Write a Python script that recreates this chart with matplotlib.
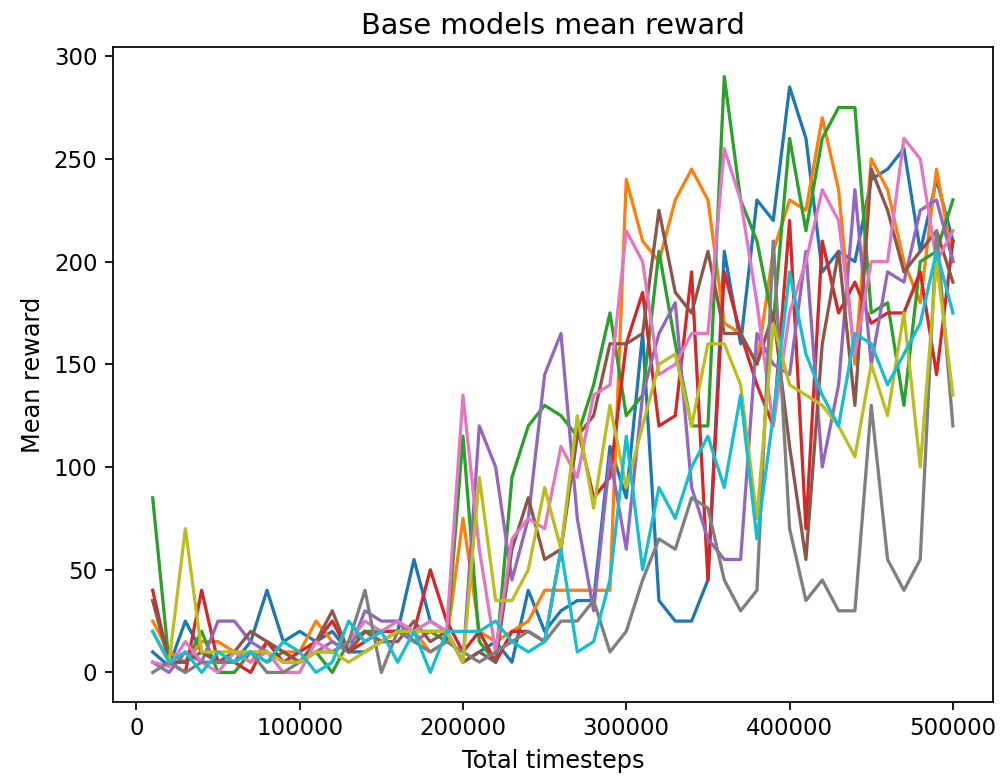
import matplotlib
matplotlib.use("Agg")
import matplotlib.pyplot as plt
import numpy as np

# evaluation checkpoints every 10k timesteps
timesteps = list(range(10000, 500001, 10000))

# mean reward of each base model at each checkpoint
model_0 = [10, 3, 25, 10, 5, 5, 15, 40, 15, 20, 15, 20, 10, 10, 15, 20, 55, 25, 20, 5,
           10, 15, 5, 40, 20, 30, 35, 35, 110, 85, 165, 35, 25, 25, 45, 205, 160, 230, 220, 285,
           260, 195, 205, 200, 240, 245, 255, 205, 240, 210]
model_1 = [25, 10, 5, 15, 15, 10, 5, 15, 10, 10, 25, 15, 10, 20, 15, 20, 20, 10, 15, 75,
           20, 15, 20, 25, 40, 40, 40, 40, 40, 240, 210, 200, 230, 245, 230, 170, 165, 150, 205, 230,
           225, 270, 235, 150, 250, 235, 200, 180, 245, 200]
model_2 = [85, 5, 5, 20, 0, 0, 10, 5, 10, 5, 10, 0, 15, 20, 20, 20, 20, 20, 15, 115,
           15, 5, 95, 120, 130, 125, 115, 140, 175, 125, 135, 205, 160, 120, 120, 290, 230, 210, 170, 260,
           215, 260, 275, 275, 175, 180, 130, 200, 205, 230]
model_3 = [40, 5, 0, 40, 5, 5, 0, 15, 5, 10, 15, 25, 10, 15, 20, 20, 20, 50, 25, 10,
           20, 5, 20, 20, 15, 60, 120, 85, 95, 160, 185, 120, 125, 195, 45, 195, 165, 140, 120, 220,
           70, 210, 175, 190, 170, 175, 175, 195, 145, 210]
model_4 = [5, 0, 10, 5, 25, 25, 15, 10, 5, 5, 10, 15, 10, 30, 25, 25, 15, 20, 20, 5,
           120, 100, 45, 75, 145, 165, 75, 30, 105, 60, 135, 165, 180, 90, 65, 55, 55, 165, 150, 145,
           205, 100, 140, 235, 150, 195, 190, 225, 230, 200]
model_5 = [35, 5, 5, 10, 5, 10, 20, 15, 10, 5, 15, 30, 10, 20, 15, 15, 25, 15, 20, 5,
           10, 5, 60, 85, 55, 60, 115, 125, 160, 160, 165, 225, 185, 175, 205, 165, 165, 150, 175, 110,
           55, 160, 205, 130, 245, 225, 195, 205, 215, 190]
model_6 = [5, 3, 15, 5, 0, 10, 5, 10, 0, 0, 15, 10, 15, 25, 20, 25, 20, 25, 20, 135,
           60, 10, 65, 75, 70, 110, 95, 135, 140, 215, 200, 145, 150, 165, 165, 255, 230, 180, 120, 175,
           200, 235, 220, 155, 200, 200, 260, 250, 200, 215]
model_7 = [0, 5, 0, 5, 5, 5, 10, 0, 0, 5, 10, 10, 15, 40, 0, 20, 15, 10, 15, 10,
           5, 10, 15, 20, 15, 25, 25, 35, 10, 20, 45, 65, 60, 85, 80, 45, 30, 40, 210, 70,
           35, 45, 30, 30, 130, 55, 40, 55, 215, 120]
model_8 = [20, 5, 70, 10, 10, 10, 10, 10, 5, 5, 10, 10, 5, 10, 15, 20, 20, 20, 20, 5,
           95, 35, 35, 50, 90, 60, 125, 80, 130, 90, 120, 150, 155, 120, 160, 160, 140, 75, 170, 140,
           135, 130, 120, 105, 150, 125, 175, 100, 200, 135]
model_9 = [20, 5, 10, 0, 10, 5, 10, 5, 15, 10, 0, 5, 25, 15, 20, 5, 20, 0, 20, 20,
           20, 25, 15, 10, 15, 60, 10, 15, 45, 115, 50, 90, 75, 100, 115, 90, 135, 65, 125, 195,
           155, 135, 120, 165, 160, 140, 155, 170, 205, 175]

models = [model_0, model_1, model_2, model_3, model_4,
          model_5, model_6, model_7, model_8, model_9]

fig = plt.figure(figsize=(1006 / 157, 782 / 157), dpi=157)
ax = fig.add_axes([0.112, 0.102, 0.875, 0.838])
for rewards in models:
    ax.plot(timesteps, rewards)

ax.set_title("Base models mean reward", fontsize=13.2)
ax.set_xlabel("Total timesteps", fontsize=11)
ax.set_ylabel("Mean reward", fontsize=11)
ax.tick_params(labelsize=10.5)
ax.ticklabel_format(style="plain", axis="x")

fig.savefig("out.png", dpi=157)
